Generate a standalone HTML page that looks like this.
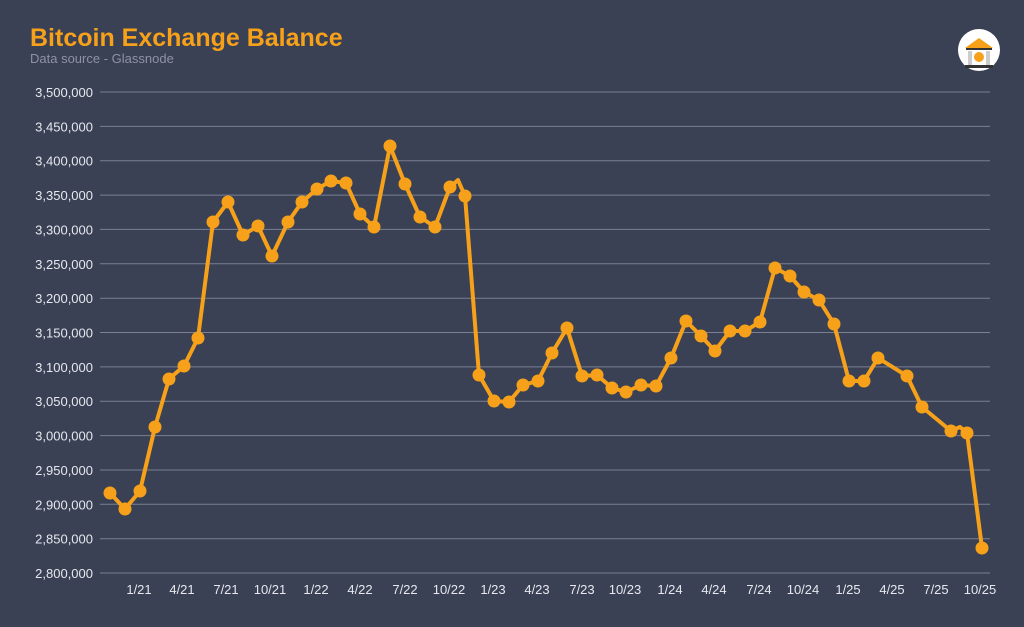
<!DOCTYPE html>
<html><head><meta charset="utf-8"><style>
html,body{margin:0;padding:0;background:#3a4154;}
svg{display:block;font-family:"Liberation Sans",sans-serif;}
</style></head><body>
<svg width="1024" height="627" viewBox="0 0 1024 627">
<rect width="1024" height="627" fill="#3a4154"/>
<text x="30" y="46" fill="#f7a11a" font-size="25" font-weight="bold">Bitcoin Exchange Balance</text>
<text x="30" y="63" fill="#8d93a3" font-size="13">Data source - Glassnode</text>
<circle cx="979" cy="50" r="21" fill="#fff"/>
<polygon points="965,48 979,38 993,48" fill="#f7a11a"/>
<rect x="966" y="48" width="26" height="2" fill="#333"/>
<rect x="968" y="51" width="4" height="14" fill="#ccc"/><rect x="986" y="51" width="4" height="14" fill="#ccc"/>
<circle cx="979" cy="57" r="5" fill="#f7a11a"/>
<rect x="965" y="65" width="28" height="3" fill="#333"/>
<g stroke="#7b8092" stroke-width="1">
<line x1="100" x2="990" y1="92" y2="92"/><line x1="100" x2="990" y1="126.4" y2="126.4"/><line x1="100" x2="990" y1="160.7" y2="160.7"/><line x1="100" x2="990" y1="195.1" y2="195.1"/><line x1="100" x2="990" y1="229.4" y2="229.4"/><line x1="100" x2="990" y1="263.8" y2="263.8"/><line x1="100" x2="990" y1="298.2" y2="298.2"/><line x1="100" x2="990" y1="332.5" y2="332.5"/><line x1="100" x2="990" y1="366.9" y2="366.9"/><line x1="100" x2="990" y1="401.2" y2="401.2"/><line x1="100" x2="990" y1="435.6" y2="435.6"/><line x1="100" x2="990" y1="470" y2="470"/><line x1="100" x2="990" y1="504.3" y2="504.3"/><line x1="100" x2="990" y1="538.7" y2="538.7"/><line x1="100" x2="990" y1="573" y2="573"/>
</g>
<g fill="#e6e8ee" font-size="13" text-anchor="end">
<text x="93" y="97">3,500,000</text><text x="93" y="131.4">3,450,000</text><text x="93" y="165.7">3,400,000</text><text x="93" y="200.1">3,350,000</text><text x="93" y="234.4">3,300,000</text><text x="93" y="268.8">3,250,000</text><text x="93" y="303.2">3,200,000</text><text x="93" y="337.5">3,150,000</text><text x="93" y="371.9">3,100,000</text><text x="93" y="406.2">3,050,000</text><text x="93" y="440.6">3,000,000</text><text x="93" y="475">2,950,000</text><text x="93" y="509.3">2,900,000</text><text x="93" y="543.7">2,850,000</text><text x="93" y="578">2,800,000</text>
</g>
<g fill="#e6e8ee" font-size="13" text-anchor="middle">
<text x="139" y="594">1/21</text><text x="182" y="594">4/21</text><text x="226" y="594">7/21</text><text x="270" y="594">10/21</text>
<text x="316" y="594">1/22</text><text x="360" y="594">4/22</text><text x="405" y="594">7/22</text><text x="449" y="594">10/22</text>
<text x="493" y="594">1/23</text><text x="537" y="594">4/23</text><text x="582" y="594">7/23</text><text x="625" y="594">10/23</text>
<text x="670" y="594">1/24</text><text x="714" y="594">4/24</text><text x="759" y="594">7/24</text><text x="803" y="594">10/24</text>
<text x="848" y="594">1/25</text><text x="892" y="594">4/25</text><text x="936" y="594">7/25</text><text x="980" y="594">10/25</text>
</g>
<polyline fill="none" stroke="#f7a11a" stroke-width="4" stroke-linejoin="round" stroke-linecap="round" points="110,493 125,509 140,491 155,427 169,379 184,366 198,338 213,222 228,202 243,235 258,226 272,256 288,222 302,202 317,189 331,181 346,183 360,214 374,227 390,146 405,184 420,217 435,227 450,187 458,180 465,196 479,375 494,401 509,402 523,385 538,381 552,353 567,328 582,376 597,375 612,388 626,392 641,385 656,386 671,358 686,321 701,336 715,351 730,331 745,331 760,322 775,268 790,276 804,292 819,300 834,324 849,381 864,381 878,358 907,376 922,407 951,431 960,427 967,433 982,548"/>
<g fill="#f7a11a">
<circle cx="110" cy="493" r="6.5"/><circle cx="125" cy="509" r="6.5"/><circle cx="140" cy="491" r="6.5"/><circle cx="155" cy="427" r="6.5"/><circle cx="169" cy="379" r="6.5"/><circle cx="184" cy="366" r="6.5"/><circle cx="198" cy="338" r="6.5"/><circle cx="213" cy="222" r="6.5"/><circle cx="228" cy="202" r="6.5"/><circle cx="243" cy="235" r="6.5"/><circle cx="258" cy="226" r="6.5"/><circle cx="272" cy="256" r="6.5"/><circle cx="288" cy="222" r="6.5"/><circle cx="302" cy="202" r="6.5"/><circle cx="317" cy="189" r="6.5"/><circle cx="331" cy="181" r="6.5"/><circle cx="346" cy="183" r="6.5"/><circle cx="360" cy="214" r="6.5"/><circle cx="374" cy="227" r="6.5"/><circle cx="390" cy="146" r="6.5"/><circle cx="405" cy="184" r="6.5"/><circle cx="420" cy="217" r="6.5"/><circle cx="435" cy="227" r="6.5"/><circle cx="450" cy="187" r="6.5"/><circle cx="465" cy="196" r="6.5"/><circle cx="479" cy="375" r="6.5"/><circle cx="494" cy="401" r="6.5"/><circle cx="509" cy="402" r="6.5"/><circle cx="523" cy="385" r="6.5"/><circle cx="538" cy="381" r="6.5"/><circle cx="552" cy="353" r="6.5"/><circle cx="567" cy="328" r="6.5"/><circle cx="582" cy="376" r="6.5"/><circle cx="597" cy="375" r="6.5"/><circle cx="612" cy="388" r="6.5"/><circle cx="626" cy="392" r="6.5"/><circle cx="641" cy="385" r="6.5"/><circle cx="656" cy="386" r="6.5"/><circle cx="671" cy="358" r="6.5"/><circle cx="686" cy="321" r="6.5"/><circle cx="701" cy="336" r="6.5"/><circle cx="715" cy="351" r="6.5"/><circle cx="730" cy="331" r="6.5"/><circle cx="745" cy="331" r="6.5"/><circle cx="760" cy="322" r="6.5"/><circle cx="775" cy="268" r="6.5"/><circle cx="790" cy="276" r="6.5"/><circle cx="804" cy="292" r="6.5"/><circle cx="819" cy="300" r="6.5"/><circle cx="834" cy="324" r="6.5"/><circle cx="849" cy="381" r="6.5"/><circle cx="864" cy="381" r="6.5"/><circle cx="878" cy="358" r="6.5"/><circle cx="907" cy="376" r="6.5"/><circle cx="922" cy="407" r="6.5"/><circle cx="951" cy="431" r="6.5"/><circle cx="967" cy="433" r="6.5"/><circle cx="982" cy="548" r="6.5"/>
</g>
</svg>
</body></html>
